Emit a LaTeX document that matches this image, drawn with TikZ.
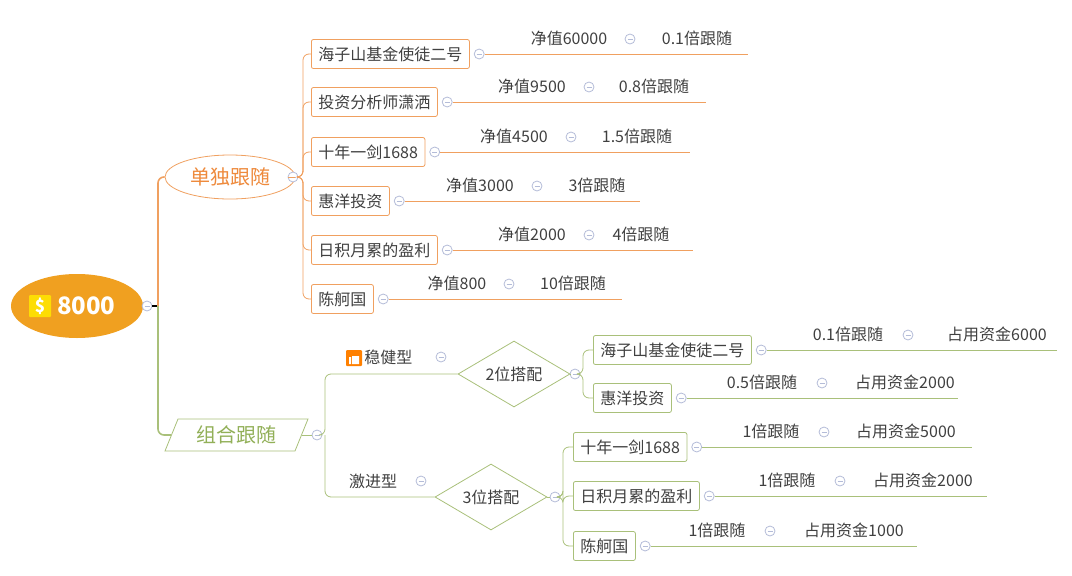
\documentclass[tikz,border=0pt]{standalone}
\usepackage{fontspec}
\setmainfont{Noto Sans CJK SC}
\usetikzlibrary{positioning}
\usetikzlibrary{shapes.geometric}
\definecolor{orline}{HTML}{F0A060}
\definecolor{ortext}{HTML}{EE8A3C}
\definecolor{grline}{HTML}{A9C07A}
\definecolor{grtext}{HTML}{92B058}
\definecolor{txt}{HTML}{404040}
\definecolor{knob}{HTML}{B4BCD8}
\definecolor{rootfill}{HTML}{F0A020}

\tikzset{
  leafbox/.style={draw=#1, rounded corners=2pt, minimum height=29, inner xsep=7, anchor=west, text=txt, fill=white},
  knobc/.style={circle, draw=knob, fill=white, inner sep=0pt, minimum size=10,
    path picture={\draw[knob, line width=0.7] ([xshift=-2.5]path picture bounding box.center) -- ([xshift=2.5]path picture bounding box.center);}},
  lbl/.style={anchor=base, text=txt, inner sep=0pt},
}

\begin{document}
\begin{tikzpicture}[x=1pt, y=-1pt, font=\fontsize{16}{18}\selectfont, line width=0.8]
\useasboundingbox (0,0) rectangle (1072,576);

% root
\node[ellipse, fill=rootfill, minimum width=132, minimum height=64] (root) at (77,306) {};
\node[fill=yellow!80!orange, rounded corners=1pt, minimum size=22, inner sep=0, text=white, font=\fontsize{17}{17}\selectfont\bfseries] (dollar) at (40,306) {\$};
\node[text=white, font=\fontsize{24}{24}\selectfont\bfseries, right=2pt of dollar] (sum) {8000};
\node[knobc] (k0) at (147,306) {};
\draw[black, line width=1.2] (k0.east) -- (158,306);

% single branch
\node[ellipse, draw=orline, fill=white, minimum width=130, minimum height=44, text=ortext, font=\fontsize{20}{20}\selectfont] (single) at (230,177) {单独跟随};
\draw[orline, line width=1.6, rounded corners=6] (158,306) |- (single.west);
\node[knobc] (k1) at (293,177) {};
\draw[orline] (single.east) -- (k1.west);

\foreach \nm/\tx/\cy/\ex/\ax/\at/\cx/\bx/\bt in {
  a/海子山基金使徒二号/54/748/569/净值60000/630/697/0.1倍跟随,
  b/投资分析师潇洒/102/706/532/净值9500/589/654/0.8倍跟随,
  c/十年一剑1688/152/690/514/净值4500/571/637/1.5倍跟随,
  d/惠洋投资/201/640/480/净值3000/537/597/3倍跟随,
  e/日积月累的盈利/250/693/532/净值2000/589/641/4倍跟随,
  f/陈舸国/299/622/457/净值800/509/573/10倍跟随}{
  \node[leafbox=orline] (\nm) at (311,\cy) {\tx};
  \draw[orline, rounded corners=6] (k1.east) -- (303,177) |- (\nm.west);
  \node[knobc, right=4pt of \nm] (\nm k) {};
  \draw[orline] (\nm k.east) -- (\ex,\cy);
  \node[lbl] at (\ax,\cy-10) {\at};
  \node[knobc] at (\cx,\cy-15) {};
  \node[lbl] at (\bx,\cy-10) {\bt};
}

% combined branch
\coordinate (pa) at (178,419);
\coordinate (pb) at (308,419);
\coordinate (pc) at (295,451);
\coordinate (pd) at (165,451);
\draw[grline, fill=white] (pa) -- (pb) -- (pc) -- (pd) -- cycle;
\node[text=grtext, font=\fontsize{20}{20}\selectfont] (combo) at (236,435) {组合跟随};
\draw[grline, line width=1.6, rounded corners=6] (158,306) |- (171,435);
\node[knobc] (k2) at (317,435) {};
\draw[grline] (302,435) -- (k2.west);

\node[diamond, draw=grline, fill=white, minimum width=112, minimum height=66, aspect=1.7, text=txt] (two) at (514,374) {2位搭配};
\node[diamond, draw=grline, fill=white, minimum width=112, minimum height=66, aspect=1.7, text=txt] (three) at (491,497) {3位搭配};
\draw[grline, rounded corners=6] (k2.east) -- (325,435) |- (two.west);
\draw[grline, rounded corners=6] (325,435) |- (three.west);

\node[fill=orange, rounded corners=1pt, minimum size=16, inner sep=0] (thumb) at (354,358) {};
\fill[white] (349,357) rectangle (351,364) (352,356) rectangle (359,364);
\node[lbl, anchor=west] (steady) at (364,357) {稳健型};
\node[knobc] at (441,357) {};
\node[lbl] (bold) at (373,487) {激进型};
\node[knobc] at (421,481) {};

\node[knobc] (k3) at (575,374) {};
\draw[grline] (two.east) -- (k3.west);
\node[knobc] (k4) at (555,497) {};
\draw[grline] (three.east) -- (k4.west);

\foreach \nm/\pn/\py/\bx/\tx/\cy/\ex/\ax/\at/\cx/\dx/\dt in {
  g/k3/374/583/海子山基金使徒二号/350/1057/848/0.1倍跟随/908/997/占用资金6000,
  h/k3/374/583/惠洋投资/398/958/762/0.5倍跟随/822/905/占用资金2000,
  i/k4/497/563/十年一剑1688/447/972/771/1倍跟随/824/906/占用资金5000,
  j/k4/497/563/日积月累的盈利/496/987/787/1倍跟随/840/923/占用资金2000,
  l/k4/497/563/陈舸国/546/917/717/1倍跟随/770/854/占用资金1000}{
  \node[leafbox=grline] (\nm) at (\bx+10,\cy) {\tx};
  \draw[grline, rounded corners=6] (\pn.east) -- (\bx,\py) |- (\nm.west);
  \node[knobc, right=4pt of \nm] (\nm k) {};
  \draw[grline] (\nm k.east) -- (\ex,\cy);
  \node[lbl] at (\ax,\cy-10) {\at};
  \node[knobc] at (\cx,\cy-15) {};
  \node[lbl] at (\dx,\cy-10) {\dt};
}
\end{tikzpicture}
\end{document}
